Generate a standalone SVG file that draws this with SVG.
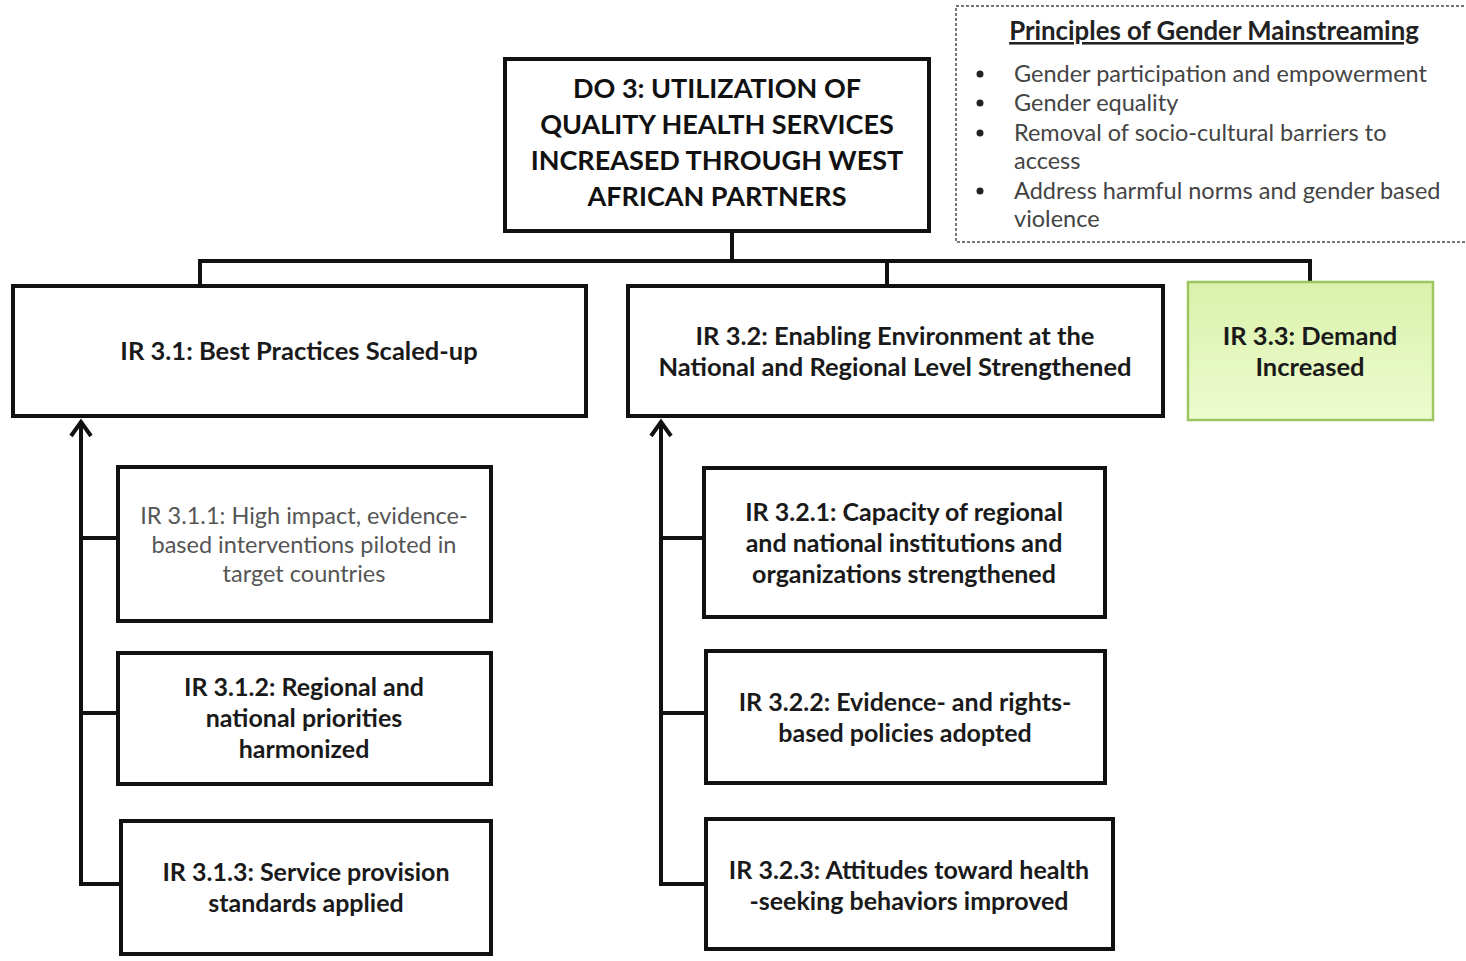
<svg xmlns="http://www.w3.org/2000/svg" width="1466" height="961" viewBox="0 0 1466 961">
<style>
.box{fill:#fff;stroke:#111;stroke-width:4}
.ln{fill:none;stroke:#111;stroke-width:4}
.ah{fill:none;stroke:#111;stroke-width:4;stroke-linejoin:miter}
.t{font-family:Lato,"Liberation Sans",sans-serif;text-anchor:middle;fill:#1a1a1a;font-weight:bold}
.big{font-size:27px;fill:#111}
.mid{font-size:25.5px}
.sub{font-size:25px}
.reg{font-weight:normal;fill:#555;font-size:23.5px}
.pr{font-family:Lato,"Liberation Sans",sans-serif;font-size:23.5px;fill:#444}
.ttl{font-family:Lato,"Liberation Sans",sans-serif;font-size:25.8px;font-weight:bold;fill:#222;text-anchor:middle;text-decoration:underline}
</style>
<defs>
<linearGradient id="g" x1="0" y1="0" x2="0" y2="1">
<stop offset="0" stop-color="#d9f1ab"/>
<stop offset="1" stop-color="#eefccf"/>
</linearGradient>
</defs>

<g id="connectors">
<path class="ln" d="M732,232 V261 M200,261 H1310 M200,259 V285 M887,259 V285 M1310,259 V282"/>
<path class="ln" d="M81,884 V422"/>
<path class="ah" d="M71,436 L81,422 L91,436"/>
<path class="ln" d="M79,538 H117 M79,713 H117 M79,884 H120"/>
<path class="ln" d="M661,884 V422"/>
<path class="ah" d="M651,436 L661,422 L671,436"/>
<path class="ln" d="M659,538 H703 M659,713 H705 M659,884 H705"/>
</g>

<g id="principles">
<rect x="956" y="6" width="514" height="236" fill="#fff" stroke="#777" stroke-width="2" stroke-dasharray="3,2"/>
<text class="ttl" x="1214" y="40">Principles of Gender Mainstreaming</text>
<g fill="#222"><circle cx="980" cy="74" r="3.5"/><circle cx="980" cy="103" r="3.5"/><circle cx="980" cy="133" r="3.5"/><circle cx="980" cy="191" r="3.5"/></g>
<text class="pr" x="1014" y="82">Gender participation and empowerment</text>
<text class="pr" x="1014" y="111">Gender equality</text>
<text class="pr" x="1014" y="141">Removal of socio-cultural barriers to</text>
<text class="pr" x="1014" y="169">access</text>
<text class="pr" x="1014" y="199">Address harmful norms and gender based</text>
<text class="pr" x="1014" y="227">violence</text>
</g>

<g id="do3">
<rect class="box" x="505" y="59" width="424" height="172"/>
<text class="t big" x="717" y="98">DO 3: UTILIZATION OF</text>
<text class="t big" x="717" y="134">QUALITY HEALTH SERVICES</text>
<text class="t big" x="717" y="170">INCREASED THROUGH WEST</text>
<text class="t big" x="717" y="206">AFRICAN PARTNERS</text>
</g>

<g id="ir31">
<rect class="box" x="13" y="286" width="573" height="130"/>
<text class="t mid" x="299" y="360">IR 3.1: Best Practices Scaled-up</text>
</g>

<g id="ir32">
<rect class="box" x="628" y="286" width="535" height="130"/>
<text class="t mid" x="895" y="345">IR 3.2: Enabling Environment at the</text>
<text class="t mid" x="895" y="376">National and Regional Level Strengthened</text>
</g>

<g id="ir33">
<rect x="1188" y="282" width="245" height="138" fill="url(#g)" stroke="#9cc760" stroke-width="2.5"/>
<text class="t mid" x="1310" y="345">IR 3.3: Demand</text>
<text class="t mid" x="1310" y="376">Increased</text>
</g>

<g id="ir311">
<rect class="box" x="118" y="467" width="373" height="154"/>
<text class="t reg" x="304" y="524">IR 3.1.1: High impact, evidence-</text>
<text class="t reg" x="304" y="553">based interventions piloted in</text>
<text class="t reg" x="304" y="582">target countries</text>
</g>

<g id="ir312">
<rect class="box" x="118" y="653" width="373" height="131"/>
<text class="t sub" x="304" y="696">IR 3.1.2: Regional and</text>
<text class="t sub" x="304" y="727">national priorities</text>
<text class="t sub" x="304" y="758">harmonized</text>
</g>

<g id="ir313">
<rect class="box" x="121" y="821" width="370" height="133"/>
<text class="t sub" x="306" y="881">IR 3.1.3: Service provision</text>
<text class="t sub" x="306" y="912">standards applied</text>
</g>

<g id="ir321">
<rect class="box" x="704" y="468" width="401" height="149"/>
<text class="t sub" x="904" y="521">IR 3.2.1: Capacity of regional</text>
<text class="t sub" x="904" y="552">and national institutions and</text>
<text class="t sub" x="904" y="583">organizations strengthened</text>
</g>

<g id="ir322">
<rect class="box" x="706" y="651" width="399" height="132"/>
<text class="t sub" x="905" y="711">IR 3.2.2: Evidence- and rights-</text>
<text class="t sub" x="905" y="742">based policies adopted</text>
</g>

<g id="ir323">
<rect class="box" x="706" y="819" width="407" height="130"/>
<text class="t sub" x="909" y="879">IR 3.2.3: Attitudes toward health</text>
<text class="t sub" x="909" y="910">-seeking behaviors improved</text>
</g>
</svg>
